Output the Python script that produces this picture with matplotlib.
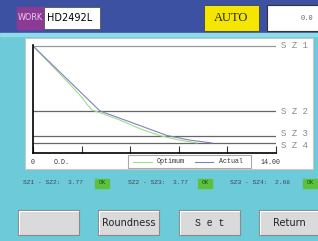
import matplotlib.pyplot as plt
from matplotlib.patches import Rectangle
from matplotlib.transforms import offset_copy

# chart data (x = position 0..14, y = size units above the bottom axis)
sz_names = ["S Z 1", "S Z 2", "S Z 3", "S Z 4"]
sz_levels = [107, 42, 17, 10]
optimum_x = [0, 1.0, 2.0, 2.8, 3.1, 3.4, 3.9, 5.0, 6.2, 7.3, 8.4, 9.45]
optimum_y = [107, 89, 71, 56, 49, 43, 40, 33, 24, 17.5, 13, 10]
actual_x = [0, 1.9, 3.86, 5.6, 7.72, 9.0, 10.3]
actual_y = [107, 75, 42, 31, 17.5, 13, 10]
x_ticks = [0, 2.8, 5.6, 8.4, 11.2, 14]
diffs = ["SZ1 - SZ2:  3.77", "SZ2 - SZ3:  3.77", "SZ3 - SZ4:  2.68"]
buttons = ["", "Roundness", "S e t", "Return"]

W, H = 318, 241
fig = plt.figure(figsize=(W / 100, H / 100), dpi=100)

# screen background in pixel coordinates
bg = fig.add_axes([0, 0, 1, 1])
bg.set_xlim(0, W)
bg.set_ylim(H, 0)
bg.axis("off")
bg.add_patch(Rectangle((0, 0), W, H, color="#6ccad9"))
bg.add_patch(Rectangle((0, 0), W, 33, color="#3d51a3"))
bg.add_patch(Rectangle((0, 33), W, 3, color="#8fdbe8"))

mono = "Liberation Mono"
bg.add_patch(Rectangle((17, 7), 27, 22, color="#8c3a94"))
bg.text(30.5, 18, "WORK", color="#e8d0f0", fontsize=6.5, family="DejaVu Sans",
        ha="center", va="center", stretch="condensed")
bg.add_patch(Rectangle((44, 7), 56, 22, facecolor="white", edgecolor="#555", lw=0.6))
bg.text(47, 18, "HD2492L", fontsize=7, family="Liberation Sans Narrow", ha="left", va="center", color="black")
bg.add_patch(Rectangle((204, 5), 55, 26, facecolor="#f4e600", edgecolor="#444", lw=0.6))
bg.text(231.5, 18, "AUTO", fontsize=9, family="Liberation Serif", ha="center", va="center", color="#222")
bg.add_patch(Rectangle((267, 5), 52, 26, facecolor="white", edgecolor="#333", lw=0.8))
bg.text(313, 18, "0.0", fontsize=5, family=mono, ha="right", va="center", color="#666")

# white chart panel
bg.add_patch(Rectangle((25, 38), 288, 131, facecolor="white", edgecolor="#c8c8c8", lw=0.8))

# status row
diff_x = [23, 128, 230]
ok_x = [95, 198, 303]
for d, dx, ox in zip(diffs, diff_x, ok_x):
    bg.text(dx, 183, d, fontsize=4.5, family=mono, color="#445", va="center")
    bg.add_patch(Rectangle((ox, 178.5), 14, 9, color="#5cc23c"))
    bg.text(ox + 7, 183, "OK", fontsize=4.3, family=mono, color="#1d4d10", ha="center", va="center")

# buttons
btn_x = [18, 98, 179, 259]
for label, bx in zip(buttons, btn_x):
    bg.add_patch(Rectangle((bx, 210), 61, 25, facecolor="#dadada", edgecolor="#8a8a8a", lw=0.8))
    bg.plot([bx + 1, bx + 1, bx + 60], [234, 211, 211], color="white", lw=0.8)
    bg.text(bx + 30.5, 222.5, label, fontsize=7, family="Liberation Sans Narrow" if label != "S e t" else mono,
            ha="center", va="center", color="#222")

# the chart itself
ax = fig.add_axes([33 / W, (H - 153) / H, 243 / W, 108 / H])
ax.set_xlim(0, 14)
ax.set_ylim(0, 108)
ax.patch.set_alpha(0)
for s in ["top", "right"]:
    ax.spines[s].set_visible(False)
for s in ["left", "bottom"]:
    ax.spines[s].set_color("black")
    ax.spines[s].set_linewidth(1.2)
ax.set_xticks(x_ticks)
ax.set_xticklabels([])
ax.set_yticks([])
ax.tick_params(axis="x", direction="in", length=5, width=0.8, color="#333")

# SZ3 / SZ4 labels nudged apart, as on the screen
label_shift = [0, 0, 2.2, -2.2]
for name, lvl, dy in zip(sz_names, sz_levels, label_shift):
    ax.axhline(lvl, color="#9a9a9a" if lvl > 100 else "#666", lw=0.9)
    tr = offset_copy(ax.get_yaxis_transform(), fig=fig, y=dy * 0.72, units="points")
    ax.text(1.02, lvl, name, transform=tr, fontsize=6.5,
            family=mono, color="#8a8a8a", va="center", ha="left")

ax.plot(optimum_x, optimum_y, color="#9fdc8c", lw=0.8, label="Optimum")
ax.plot(actual_x, actual_y, color="#8080c0", lw=0.8, label="Actual")

bg.text(33, 162, "0", fontsize=4.8, family=mono, color="#333", ha="center", va="center")
bg.text(54, 162, "O.D.", fontsize=4.8, family=mono, color="#333", ha="left", va="center")
bg.text(271, 162, "14.00", fontsize=4.8, family=mono, color="#333", ha="center", va="center")

# legend box drawn by hand in the screen layer
bg.add_patch(Rectangle((128, 155), 123, 13, facecolor="white", edgecolor="#aaa", lw=0.8))
bg.plot([133, 152], [161.5, 161.5], color="#9fdc8c", lw=0.8)
bg.text(157, 161.5, "Optimum", fontsize=4.8, family=mono, color="#333", va="center")
bg.plot([195, 213], [161.5, 161.5], color="#8080c0", lw=0.8)
bg.text(219, 161.5, "Actual", fontsize=4.8, family=mono, color="#333", va="center")

fig.savefig("out.png", dpi=100)
